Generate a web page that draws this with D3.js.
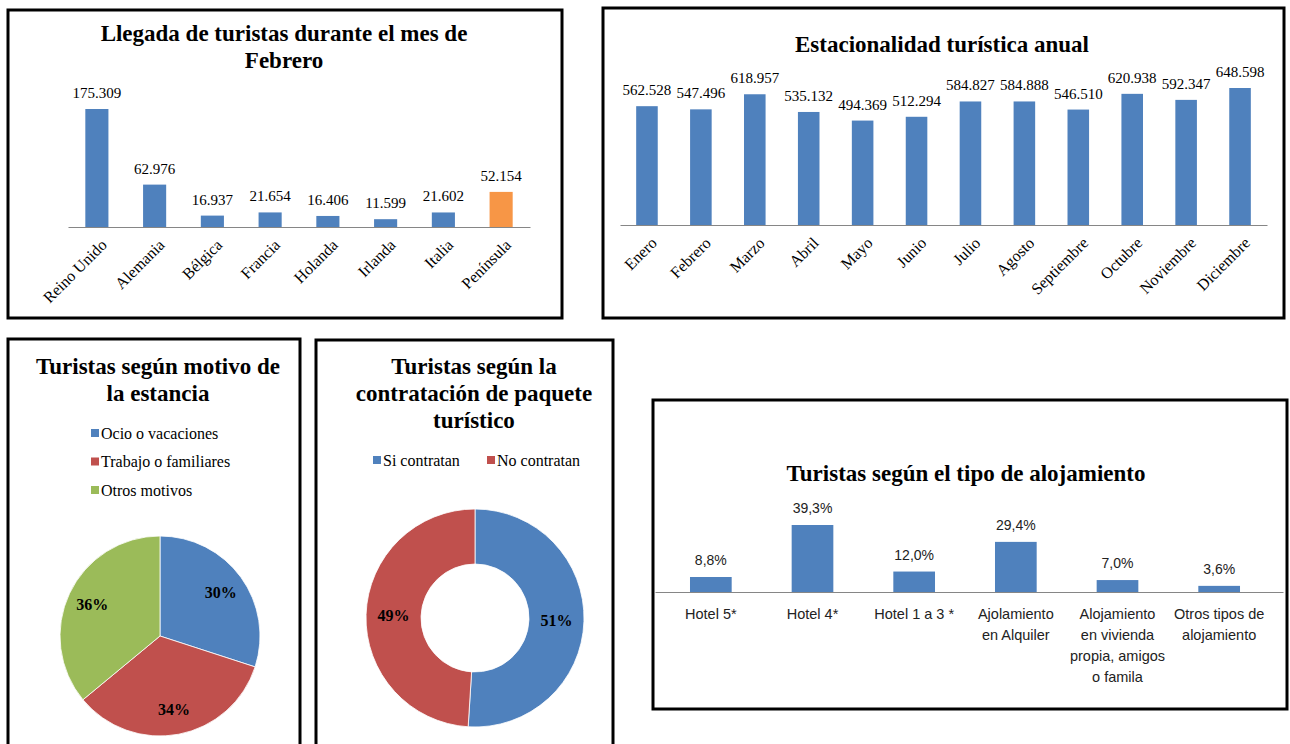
<!DOCTYPE html>
<html>
<head>
<meta charset="utf-8">
<script src="https://cdn.jsdelivr.net/npm/d3@7"></script>
<style>
  body { margin: 0; background: #fff; }
  svg { display: block; }
</style>
</head>
<body>
<svg id="board" width="1290" height="744"></svg>
<script>
// data
const febCountries = ["Reino Unido", "Alemania", "Bélgica", "Francia", "Holanda", "Irlanda", "Italia", "Península"];
const febValues = [175309, 62976, 16937, 21654, 16406, 11599, 21602, 52154];

const months = ["Enero", "Febrero", "Marzo", "Abril", "Mayo", "Junio", "Julio", "Agosto",
  "Septiembre", "Octubre", "Noviembre", "Diciembre"];
const monthValues = [562528, 547496, 618957, 535132, 494369, 512294, 584827, 584888,
  546510, 620938, 592347, 648598];

const motivoLabels = ["Ocio o vacaciones", "Trabajo o familiares", "Otros motivos"];
const motivoValues = [30, 34, 36];

const paqueteLabels = ["Si contratan", "No contratan"];
const paqueteValues = [51, 49];

const alojLabels = [
  ["Hotel 5*"], ["Hotel 4*"], ["Hotel 1 a 3 *"], ["Ajolamiento", "en Alquiler"],
  ["Alojamiento", "en vivienda", "propia, amigos", "o famila"], ["Otros tipos de", "alojamiento"]
];
const alojValues = [8.8, 39.3, 12.0, 29.4, 7.0, 3.6];

const BLUE = "#4f81bd", RED = "#c0504d", GREEN = "#9bbb59", ORANGE = "#f79646";
const SERIF = "Liberation Serif, DejaVu Serif, serif";
const SANS = "Liberation Sans, DejaVu Sans, sans-serif";

const es = d3.formatLocale({ decimal: ",", thousands: ".", grouping: [3], currency: ["", " €"] });
const fmtInt = es.format(",d");
const fmtPct = es.format(".1f");

const svg = d3.select("#board");

function panel(x, y, w, h) {
  svg.append("rect")
    .attr("x", x).attr("y", y).attr("width", w).attr("height", h)
    .attr("fill", "#fff").attr("stroke", "#000").attr("stroke-width", 3);
}

function title(lines, cx, y0, lh) {
  const t = svg.append("text")
    .attr("text-anchor", "middle")
    .style("font-family", SERIF).attr("font-weight", 700).attr("font-size", 23)
    .attr("fill", "#000");
  lines.forEach((l, i) => t.append("tspan").attr("x", cx).attr("y", y0 + i * lh).text(l));
}

function styleAxis(g) {
  g.select(".domain").attr("stroke", "#868686").attr("stroke-width", 1.2);
  g.selectAll(".tick line").remove();
}

// ---- panel 1: llegada febrero
panel(8, 10, 554, 308);
title(["Llegada de turistas durante el mes de", "Febrero"], 284, 41, 27);
{
  const base = 227;
  const x = d3.scaleBand().domain(febCountries).range([68, 530]);
  const y = d3.scaleLinear().domain([0, d3.max(febValues)]).range([base, 109]);
  const bw = x.bandwidth() * 0.4;
  const g = svg.append("g");
  g.selectAll("rect").data(febCountries).enter().append("rect")
    .attr("x", d => x(d) + x.bandwidth() / 2 - bw / 2)
    .attr("y", (d, i) => y(febValues[i]))
    .attr("width", bw)
    .attr("height", (d, i) => base - y(febValues[i]))
    .attr("fill", (d, i) => i === febCountries.length - 1 ? ORANGE : BLUE);
  g.selectAll(".val").data(febCountries).enter().append("text")
    .attr("x", d => x(d) + x.bandwidth() / 2)
    .attr("y", (d, i) => y(febValues[i]) - 11)
    .attr("text-anchor", "middle")
    .style("font-family", SERIF).attr("font-size", 15)
    .text((d, i) => fmtInt(febValues[i]));
  const ax = svg.append("g").attr("transform", `translate(0,${base})`)
    .call(d3.axisBottom(x).tickSize(0).tickSizeOuter(0));
  styleAxis(ax);
  ax.selectAll("text")
    .attr("y", 0).attr("dy", "0.35em")
    .attr("transform", "translate(7,15) rotate(-45)")
    .attr("text-anchor", "end")
    .style("font-family", SERIF).attr("font-size", 16).attr("fill", "#000");
}

// ---- panel 2: estacionalidad
panel(603, 8, 681, 310);
title(["Estacionalidad turística anual"], 942, 52, 0);
{
  const base = 225;
  const x = d3.scaleBand().domain(months).range([620, 1267]);
  const y = d3.scaleLinear().domain([0, d3.max(monthValues)]).range([base, 88]);
  const bw = x.bandwidth() * 0.4;
  const g = svg.append("g");
  g.selectAll("rect").data(months).enter().append("rect")
    .attr("x", d => x(d) + x.bandwidth() / 2 - bw / 2)
    .attr("y", (d, i) => y(monthValues[i]))
    .attr("width", bw)
    .attr("height", (d, i) => base - y(monthValues[i]))
    .attr("fill", BLUE);
  g.selectAll(".val").data(months).enter().append("text")
    .attr("x", d => x(d) + x.bandwidth() / 2)
    .attr("y", (d, i) => y(monthValues[i]) - 11)
    .attr("text-anchor", "middle")
    .style("font-family", SERIF).attr("font-size", 15)
    .text((d, i) => fmtInt(monthValues[i]));
  const ax = svg.append("g").attr("transform", `translate(0,${base})`)
    .call(d3.axisBottom(x).tickSize(0).tickSizeOuter(0));
  styleAxis(ax);
  ax.selectAll("text")
    .attr("y", 0).attr("dy", "0.35em")
    .attr("transform", "translate(7,15) rotate(-45)")
    .attr("text-anchor", "end")
    .style("font-family", SERIF).attr("font-size", 16).attr("fill", "#000");
}

// ---- panel 3: motivo (pie)
panel(8, 339, 292, 420);
title(["Turistas según motivo de", "la estancia"], 158, 374, 27);
{
  const colors = [BLUE, RED, GREEN];
  const leg = svg.append("g");
  motivoLabels.forEach((l, i) => {
    const yy = 433 + i * 28.5;
    leg.append("rect").attr("x", 91).attr("y", yy - 4).attr("width", 8).attr("height", 8).attr("fill", colors[i]);
    leg.append("text").attr("x", 101).attr("y", yy).attr("dy", "0.35em")
      .style("font-family", SERIF).attr("font-size", 16).text(l);
  });
  const pie = d3.pie().sort(null)(motivoValues);
  const arc = d3.arc().innerRadius(0).outerRadius(100);
  const lab = d3.arc().innerRadius(75).outerRadius(75);
  const g = svg.append("g").attr("transform", "translate(160,636)");
  g.selectAll("path").data(pie).enter().append("path")
    .attr("d", arc).attr("fill", (d, i) => colors[i])
    .attr("stroke", "#fff").attr("stroke-width", 0.8);
  g.selectAll("text").data(pie).enter().append("text")
    .attr("transform", d => `translate(${lab.centroid(d)})`)
    .attr("text-anchor", "middle").attr("dy", "0.35em")
    .style("font-family", SERIF).attr("font-weight", 700).attr("font-size", 16)
    .text(d => d.data + "%");
}

// ---- panel 4: paquete (donut)
panel(316, 340, 297, 420);
title(["Turistas según la", "contratación de paquete", "turístico"], 474, 374, 27);
{
  const colors = [BLUE, RED];
  const leg = svg.append("g");
  const lx = [373, 487];
  paqueteLabels.forEach((l, i) => {
    leg.append("rect").attr("x", lx[i]).attr("y", 456).attr("width", 8).attr("height", 8).attr("fill", colors[i]);
    leg.append("text").attr("x", lx[i] + 10).attr("y", 460).attr("dy", "0.35em")
      .style("font-family", SERIF).attr("font-size", 16).text(l);
  });
  const pie = d3.pie().sort(null)(paqueteValues);
  const arc = d3.arc().innerRadius(54).outerRadius(109);
  const g = svg.append("g").attr("transform", "translate(475,618)");
  g.selectAll("path").data(pie).enter().append("path")
    .attr("d", arc).attr("fill", (d, i) => colors[i])
    .attr("stroke", "#fff").attr("stroke-width", 0.8);
  g.selectAll("text").data(pie).enter().append("text")
    .attr("transform", d => `translate(${arc.centroid(d)})`)
    .attr("text-anchor", "middle").attr("dy", "0.35em")
    .style("font-family", SERIF).attr("font-weight", 700).attr("font-size", 16)
    .text(d => d.data + "%");
}

// ---- panel 5: alojamiento
panel(653, 400, 634, 309);
title(["Turistas según el tipo de alojamiento"], 966, 481, 0);
{
  const base = 592;
  const keys = alojLabels.map((d, i) => i);
  const x = d3.scaleBand().domain(keys).range([660, 1270]);
  const y = d3.scaleLinear().domain([0, d3.max(alojValues)]).range([base, 525]);
  const bw = x.bandwidth() * 0.41;
  const g = svg.append("g");
  g.selectAll("rect").data(keys).enter().append("rect")
    .attr("x", d => x(d) + x.bandwidth() / 2 - bw / 2)
    .attr("y", d => y(alojValues[d]))
    .attr("width", bw)
    .attr("height", d => base - y(alojValues[d]))
    .attr("fill", BLUE);
  g.selectAll(".val").data(keys).enter().append("text")
    .attr("x", d => x(d) + x.bandwidth() / 2)
    .attr("y", d => y(alojValues[d]) - 12)
    .attr("text-anchor", "middle")
    .style("font-family", SANS).attr("font-size", 14).attr("fill", "#222")
    .text(d => fmtPct(alojValues[d]) + "%");
  const ax = svg.append("g").attr("transform", `translate(0,${base})`)
    .call(d3.axisBottom(x).tickSize(0).tickSizeOuter(0).tickFormat(""));
  styleAxis(ax);
  ax.select(".domain").attr("d", "M655.5,0.5H1283.5");
  keys.forEach(k => {
    const t = ax.append("text")
      .attr("text-anchor", "middle")
      .style("font-family", SANS).attr("font-size", 14.5).attr("fill", "#222");
    alojLabels[k].forEach((l, j) => t.append("tspan")
      .attr("x", x(k) + x.bandwidth() / 2).attr("y", 27 + j * 21).text(l));
  });
}
</script>
</body>
</html>
